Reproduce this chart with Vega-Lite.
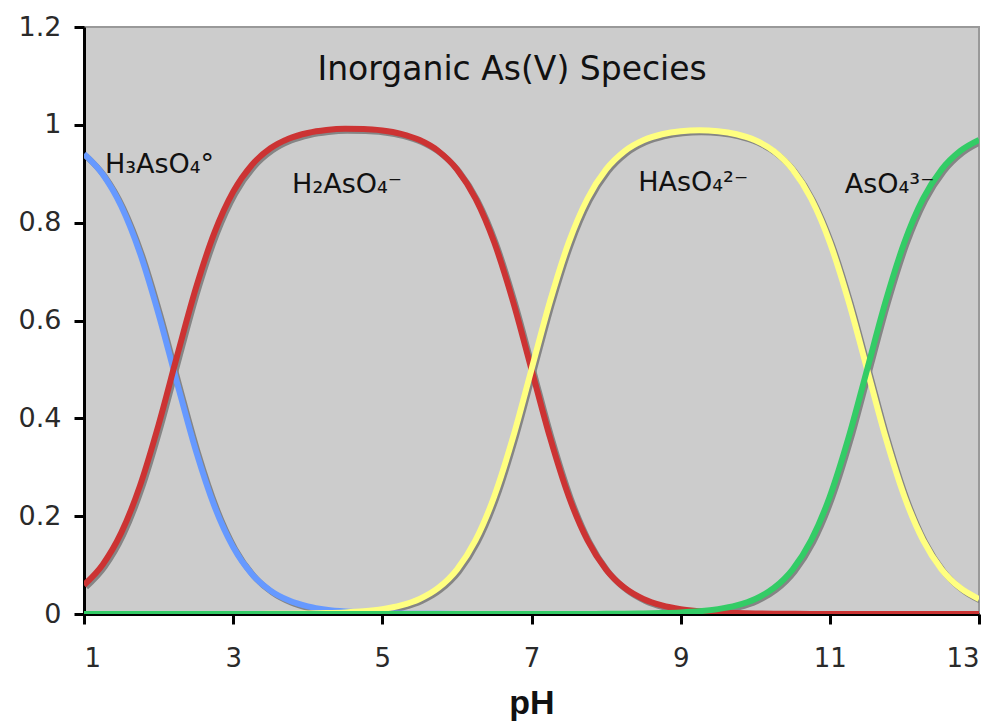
{
  "$schema": "https://vega.github.io/schema/vega-lite/v6.json",
  "width": 895,
  "height": 587,
  "autosize": "none",
  "padding": {"left": 84, "top": 27, "right": 21, "bottom": 108},
  "background": "white",
  "config": {
    "view": {"fill": "#CCCCCC", "stroke": "#999999", "strokeWidth": 2},
    "axis": {"grid": false}
  },
  "datasets": {
    "curves": [
      {"pH": 1, "H3": 0.9406, "H2": 0.0594, "H1": 0, "A": 0},
      {"pH": 1.25, "H3": 0.8991, "H2": 0.1009, "H1": 0, "A": 0},
      {"pH": 1.5, "H3": 0.8337, "H2": 0.1663, "H1": 0, "A": 0},
      {"pH": 1.75, "H3": 0.7381, "H2": 0.2619, "H1": 0, "A": 0},
      {"pH": 2, "H3": 0.6131, "H2": 0.3869, "H1": 0, "A": 0},
      {"pH": 2.25, "H3": 0.4713, "H2": 0.5287, "H1": 0, "A": 0},
      {"pH": 2.5, "H3": 0.3339, "H2": 0.6661, "H1": 0, "A": 0},
      {"pH": 2.75, "H3": 0.2199, "H2": 0.78, "H1": 0.0001, "A": 0},
      {"pH": 3, "H3": 0.1368, "H2": 0.8631, "H1": 0.0001, "A": 0},
      {"pH": 3.25, "H3": 0.0818, "H2": 0.918, "H1": 0.0002, "A": 0},
      {"pH": 3.5, "H3": 0.0477, "H2": 0.952, "H1": 0.0003, "A": 0},
      {"pH": 3.75, "H3": 0.0274, "H2": 0.9721, "H1": 0.0005, "A": 0},
      {"pH": 4, "H3": 0.0156, "H2": 0.9834, "H1": 0.001, "A": 0},
      {"pH": 4.25, "H3": 0.0088, "H2": 0.9894, "H1": 0.0018, "A": 0},
      {"pH": 4.5, "H3": 0.005, "H2": 0.9918, "H1": 0.0032, "A": 0},
      {"pH": 4.75, "H3": 0.0028, "H2": 0.9916, "H1": 0.0056, "A": 0},
      {"pH": 5, "H3": 0.0016, "H2": 0.9885, "H1": 0.0099, "A": 0},
      {"pH": 5.25, "H3": 0.0009, "H2": 0.9816, "H1": 0.0175, "A": 0},
      {"pH": 5.5, "H3": 0.0005, "H2": 0.9688, "H1": 0.0307, "A": 0},
      {"pH": 5.75, "H3": 0.0003, "H2": 0.9465, "H1": 0.0532, "A": 0},
      {"pH": 6, "H3": 0.0001, "H2": 0.909, "H1": 0.0909, "A": 0},
      {"pH": 6.25, "H3": 0.0001, "H2": 0.8491, "H1": 0.1508, "A": 0},
      {"pH": 6.5, "H3": 0, "H2": 0.7598, "H1": 0.2402, "A": 0},
      {"pH": 6.75, "H3": 0, "H2": 0.6401, "H1": 0.3599, "A": 0},
      {"pH": 7, "H3": 0, "H2": 0.5, "H1": 0.5, "A": 0},
      {"pH": 7.25, "H3": 0, "H2": 0.3599, "H1": 0.64, "A": 0.0001},
      {"pH": 7.5, "H3": 0, "H2": 0.2402, "H1": 0.7597, "A": 0.0001},
      {"pH": 7.75, "H3": 0, "H2": 0.1509, "H1": 0.8489, "A": 0.0002},
      {"pH": 8, "H3": 0, "H2": 0.0909, "H1": 0.9088, "A": 0.0003},
      {"pH": 8.25, "H3": 0, "H2": 0.0532, "H1": 0.9462, "A": 0.0006},
      {"pH": 8.5, "H3": 0, "H2": 0.0307, "H1": 0.9683, "A": 0.001},
      {"pH": 8.75, "H3": 0, "H2": 0.0175, "H1": 0.9807, "A": 0.0018},
      {"pH": 9, "H3": 0, "H2": 0.0099, "H1": 0.9869, "A": 0.0032},
      {"pH": 9.25, "H3": 0, "H2": 0.0056, "H1": 0.9888, "A": 0.0056},
      {"pH": 9.5, "H3": 0, "H2": 0.0032, "H1": 0.9869, "A": 0.0099},
      {"pH": 9.75, "H3": 0, "H2": 0.0018, "H1": 0.9807, "A": 0.0175},
      {"pH": 10, "H3": 0, "H2": 0.001, "H1": 0.9683, "A": 0.0307},
      {"pH": 10.25, "H3": 0, "H2": 0.0006, "H1": 0.9462, "A": 0.0532},
      {"pH": 10.5, "H3": 0, "H2": 0.0003, "H1": 0.9088, "A": 0.0909},
      {"pH": 10.75, "H3": 0, "H2": 0.0002, "H1": 0.8489, "A": 0.1509},
      {"pH": 11, "H3": 0, "H2": 0.0001, "H1": 0.7597, "A": 0.2402},
      {"pH": 11.25, "H3": 0, "H2": 0.0001, "H1": 0.64, "A": 0.3599},
      {"pH": 11.5, "H3": 0, "H2": 0, "H1": 0.5, "A": 0.5},
      {"pH": 11.75, "H3": 0, "H2": 0, "H1": 0.3599, "A": 0.6401},
      {"pH": 12, "H3": 0, "H2": 0, "H1": 0.2402, "A": 0.7598},
      {"pH": 12.25, "H3": 0, "H2": 0, "H1": 0.1509, "A": 0.8491},
      {"pH": 12.5, "H3": 0, "H2": 0, "H1": 0.0909, "A": 0.9091},
      {"pH": 12.75, "H3": 0, "H2": 0, "H1": 0.0532, "A": 0.9468},
      {"pH": 13, "H3": 0, "H2": 0, "H1": 0.0307, "A": 0.9693}
    ],
    "labels": [
      {"pH": 1.28, "f": 0.918, "label": "H₃AsO₄°"},
      {"pH": 3.79, "f": 0.877, "label": "H₂AsO₄⁻"},
      {"pH": 8.43, "f": 0.881, "label": "HAsO₄²⁻"},
      {"pH": 11.2, "f": 0.877, "label": "AsO₄³⁻"}
    ],
    "title": [
      {"pH": 6.74, "f": 1.112, "label": "Inorganic As(V) Species"}
    ]
  },
  "layer": [
    {
      "data": {"name": "curves"},
      "transform": [{"fold": ["H3", "H2", "H1", "A"], "as": ["sp", "f"]}],
      "mark": {"type": "line", "interpolate": "monotone", "strokeWidth": 6, "color": "#858585", "xOffset": 2, "yOffset": 2, "clip": true},
      "encoding": {
        "x": {"field": "pH", "type": "quantitative", "scale": {"domain": [1, 13], "nice": false},
          "axis": {"values": [1, 3, 5, 7, 9, 11, 13], "format": "~g", "title": "pH", "domainColor": "black", "domainWidth": 3, "tickColor": "black", "tickWidth": 3, "tickSize": 10,
            "labelFont": "DejaVu Sans", "labelFontSize": 26, "labelColor": "#2a2a2a", "labelPadding": 21,
            "titleFont": "Liberation Sans", "titleFontSize": 34, "titleFontWeight": "bold", "titleColor": "#111111", "titlePadding": 15}},
        "y": {"field": "f", "type": "quantitative", "scale": {"domain": [0, 1.2], "nice": false},
          "axis": {"values": [0, 0.2, 0.4, 0.6, 0.8, 1, 1.2], "format": "~g", "title": null, "domainColor": "black", "domainWidth": 3, "tickColor": "black", "tickWidth": 3, "tickSize": 10,
            "labelFont": "DejaVu Sans", "labelFontSize": 27, "labelColor": "#2a2a2a", "labelPadding": 13}},
        "detail": {"field": "sp"}
      }
    },
    {
      "data": {"name": "curves"},
      "transform": [{"fold": ["H3", "H2", "H1", "A"], "as": ["sp", "f"]}],
      "mark": {"type": "line", "interpolate": "monotone", "strokeWidth": 6, "clip": true},
      "encoding": {
        "x": {"field": "pH", "type": "quantitative"},
        "y": {"field": "f", "type": "quantitative"},
        "color": {"field": "sp", "type": "nominal", "legend": null,
          "scale": {"domain": ["H3", "H2", "H1", "A"], "range": ["#6699FF", "#CC3333", "#FFFF80", "#33CC66"]}}
      }
    },
    {
      "data": {"name": "labels"},
      "mark": {"type": "text", "font": "DejaVu Sans", "fontSize": 27, "align": "left", "baseline": "middle", "color": "#111111"},
      "encoding": {
        "x": {"field": "pH", "type": "quantitative"},
        "y": {"field": "f", "type": "quantitative"},
        "text": {"field": "label"}
      }
    },
    {
      "data": {"name": "title"},
      "mark": {"type": "text", "font": "DejaVu Sans", "fontSize": 33, "align": "center", "baseline": "middle", "color": "#111111"},
      "encoding": {
        "x": {"field": "pH", "type": "quantitative"},
        "y": {"field": "f", "type": "quantitative"},
        "text": {"field": "label"}
      }
    }
  ]
}
